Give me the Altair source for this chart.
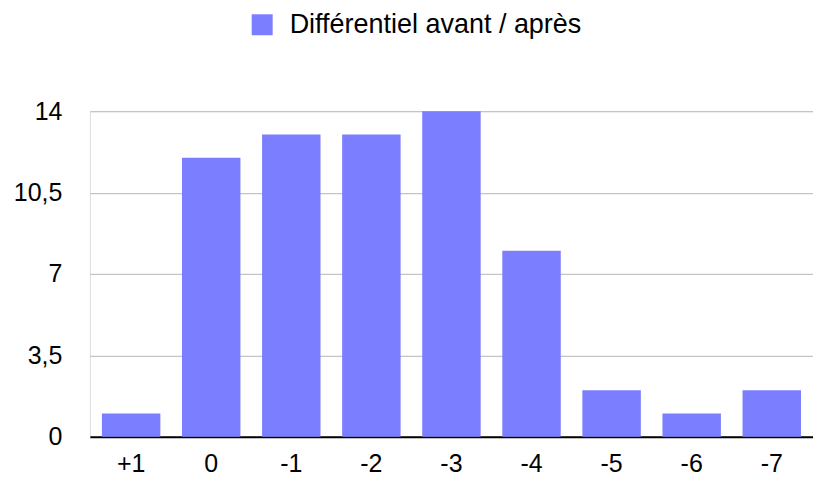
import altair as alt
import pandas as pd

categories = ["+1", "0", "-1", "-2", "-3", "-4", "-5", "-6", "-7"]
values = [1, 12, 13, 13, 14, 8, 2, 1, 2]
series_name = "Différentiel avant / après"
y_ticks = [0, 3.5, 7, 10.5, 14]

df = pd.DataFrame({"cat": categories, "val": values, "series": [series_name] * len(categories)})

FONT = "Liberation Sans"
BAR = "#7b7fff"

chart = alt.Chart(df).mark_bar(color=BAR).encode(
    x=alt.X("cat:N", sort=categories, title=None,
            scale=alt.Scale(paddingInner=0.27, paddingOuter=0.15),
            axis=alt.Axis(labelAngle=0, ticks=False, domain=True, domainColor="#000000",
                          domainWidth=2, labelFontSize=25, labelFont=FONT, labelColor="#000000",
                          labelPadding=15, grid=False)),
    y=alt.Y("val:Q", title=None,
            scale=alt.Scale(domain=[0, 14], nice=False),
            axis=alt.Axis(values=y_ticks, ticks=False, domain=False, grid=True,
                          gridColor="#c4c4c4", gridWidth=1.2,
                          labelExpr="replace(toString(datum.value), '.', ',')",
                          labelFontSize=25, labelFont=FONT, labelColor="#000000",
                          labelPadding=28)),
    color=alt.Color("series:N", scale=alt.Scale(range=[BAR]),
                    legend=alt.Legend(title=None, orient="none", legendX=159, legendY=-100,
                                      symbolType="square", symbolSize=441, symbolStrokeWidth=0,
                                      labelFontSize=27, labelFont=FONT, labelColor="#000000",
                                      labelOffset=14, labelLimit=0, direction="horizontal")),
).properties(
    width=724, height=326,
    autosize=alt.AutoSizeParams(type="none"),
    padding={"left": 82, "top": 103, "right": 0, "bottom": 40},
).configure_view(stroke=None).configure(background="white")

chart.save("out.html", embed_options={"renderer": "svg", "actions": False})
